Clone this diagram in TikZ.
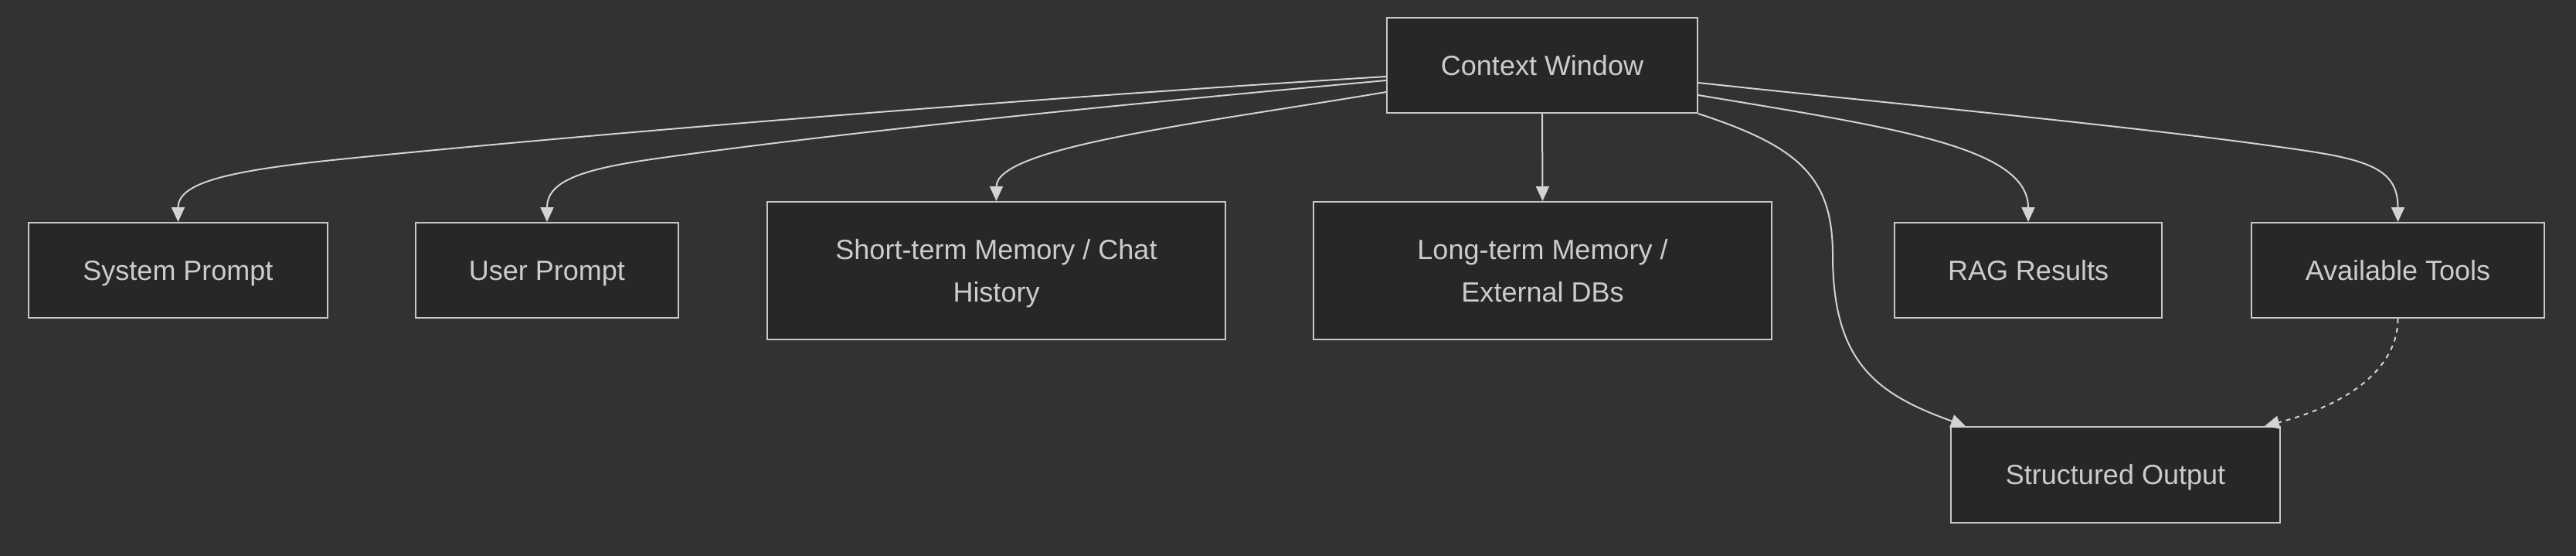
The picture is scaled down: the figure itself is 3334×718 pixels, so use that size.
\documentclass[tikz,border=0pt]{standalone}
\usepackage{fontspec}
\setmainfont{Liberation Sans}
\usetikzlibrary{arrows.meta}
\definecolor{bg}{HTML}{323234}
\definecolor{boxfill}{HTML}{262828}
\definecolor{boxline}{HTML}{C8C8C8}
\definecolor{txt}{HTML}{CCCCCC}
\definecolor{edgecol}{HTML}{D3D3D3}
\newcommand{\toplift}{\rule{0pt}{34pt}}
\begin{document}
\begin{tikzpicture}[x=1pt,y=-1pt,
  basebox/.style={draw=boxline, fill=boxfill, line width=2pt, text=txt,
    font=\fontsize{36}{55}\selectfont, align=center, inner sep=0pt,
    minimum height=123pt},
  box/.style={basebox, text height=32pt, text depth=6.5pt},
  tallbox/.style={basebox, minimum width=593pt, minimum height=178pt},
  conn/.style={draw=edgecol, line width=2pt, -{Triangle[length=19pt,width=17pt]}},
  dotconn/.style={conn, dash pattern=on 6pt off 6pt}]
\useasboundingbox (0,0) rectangle (3334,718);
\fill[bg] (-10,-10) rectangle (3344,728);

\node[box, minimum width=402pt] (cw) at (1996,84.5) {Context Window};
\node[box, minimum width=387pt] (sys) at (230.5,349.5) {System Prompt};
\node[box, minimum width=340pt] (usr) at (708,349.5) {User Prompt};
\node[tallbox] (stm) at (1289.5,350) {\toplift Short-term Memory / Chat\\History\vphantom{D}};
\node[tallbox] (ltm) at (1996.5,350) {\toplift Long-term Memory /\\External DBs\vphantom{y}};
\node[box, minimum width=346pt] (rag) at (2625,349.5) {RAG Results};
\node[box, minimum width=379pt] (tools) at (3103.5,349.5) {Available Tools};
\node[box, minimum width=426pt, minimum height=124pt] (out) at (2738,614) {Structured Output};

\draw[conn] ([yshift=-14.5pt]cw.west) .. controls (1350,126) and (800,170) .. (450,205)
  .. controls (300,220) and (230.5,235) .. (sys.north);
\draw[conn] ([yshift=-19.5pt]cw.west) .. controls (1450,135) and (1100,170) .. (850,205)
  .. controls (750,219) and (708,235) .. (usr.north);
\draw[conn] ([yshift=-34.5pt]cw.west) .. controls (1550,160) and (1289.5,190) .. (stm.north);
\draw[conn] (cw.south) -- (ltm.north);
\draw[conn] ([yshift=-38.5pt]cw.east) .. controls (2450,165) and (2625,190) .. (rag.north);
\draw[conn] ([yshift=-22.5pt]cw.east) .. controls (2450,134) and (2750,162) .. (2950,190)
  .. controls (3060,205) and (3103.5,215) .. (tools.north);
\draw[conn] (cw.south east) .. controls (2330,190) and (2372,230) .. (2372,330)
  .. controls (2372,470) and (2430,510) .. ([xshift=20pt]out.north west);
\draw[dotconn] (tools.south) .. controls (3103.5,470) and (3050,520) .. ([xshift=-21pt]out.north east);
\end{tikzpicture}
\end{document}
